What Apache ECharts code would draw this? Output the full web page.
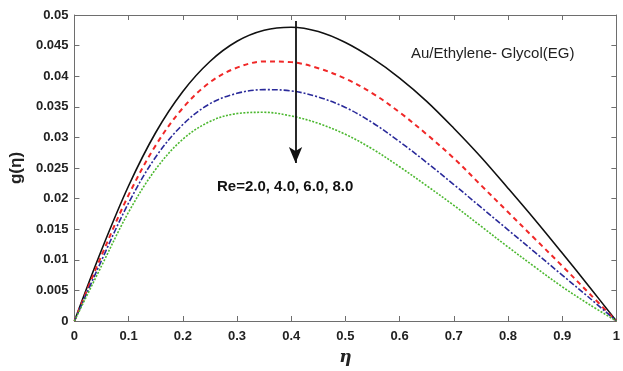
<!DOCTYPE html>
<html>
<head>
<meta charset="utf-8">
<script src="https://cdn.jsdelivr.net/npm/echarts@6/dist/echarts.min.js"></script>
<style>html,body{margin:0;padding:0;background:#fff;}#c{width:623px;height:371px;}</style>
</head>
<body>
<div id="c"></div>
<script>
var eta = [0,0.05,0.1,0.15,0.2,0.25,0.3,0.35,0.4,0.45,0.5,0.55,0.6,0.65,0.7,0.75,0.8,0.85,0.9,0.95,1];
var re2 = [0,0.0116,0.0221,0.0308,0.0375,0.0424,0.0457,0.0475,0.0480,0.0473,0.0455,0.0429,0.0397,0.0359,0.0315,0.0268,0.0217,0.0165,0.0111,0.0056,0];
var re4 = [0,0.0107,0.0206,0.0287,0.0348,0.0390,0.0414,0.0424,0.0423,0.0413,0.0396,0.0372,0.0341,0.0305,0.0266,0.0222,0.0178,0.0134,0.0090,0.0045,0];
var re6 = [0,0.0099,0.0193,0.0268,0.0321,0.0355,0.0372,0.0378,0.0376,0.0366,0.0349,0.0324,0.0293,0.0259,0.0223,0.0186,0.0149,0.0112,0.0075,0.0038,0];
var re8 = [0,0.0090,0.0178,0.0248,0.0297,0.0326,0.0339,0.0341,0.0335,0.0323,0.0305,0.0281,0.0252,0.0221,0.0189,0.0155,0.0121,0.0088,0.0056,0.0027,0];
var arrowX = 0.408, arrowTop = 0.0490, arrowBottom = 0.0258;
var labelRe = 'Re=2.0, 4.0, 6.0, 8.0';
var labelFluid = 'Au/Ethylene- Glycol(EG)';

function pairs(ys){ return eta.map(function(x,i){ return [x, ys[i]]; }); }

var axisCol = '#6e6e6e';
var chart = echarts.init(document.getElementById('c'), null, {renderer:'canvas'});
var lbl = {color:'#222', fontFamily:'Liberation Sans, Arial, sans-serif', fontWeight:'bold', fontSize:13};
function frameAxis(pos){
  return {
    show:true, position:pos,
    axisLine:{show:true, onZero:false, lineStyle:{color:axisCol, width:1}},
    axisTick:{show:true, inside:true, length:5, lineStyle:{color:axisCol}},
    axisLabel:{show:false}, splitLine:{show:false}
  };
}
var xTop = Object.assign({type:'value', min:0, max:1, interval:0.1}, frameAxis('top'));
var yRight = Object.assign({type:'value', min:0, max:0.05, interval:0.005}, frameAxis('right'));
var sm = 0.35;
chart.setOption({
  animation:false,
  backgroundColor:'#fff',
  grid:{left:72, right:5, top:15, bottom:47},
  xAxis:[{
    type:'value', min:0, max:1, interval:0.1, position:'bottom',
    name:'\u03b7', nameLocation:'middle', nameGap:28,
    nameTextStyle:{fontFamily:'DejaVu Serif, serif', fontStyle:'italic', fontWeight:'bold', fontSize:17, color:'#222'},
    axisLine:{show:true, onZero:false, lineStyle:{color:axisCol, width:1}},
    axisTick:{show:true, inside:true, length:5, lineStyle:{color:axisCol}},
    axisLabel:Object.assign({margin:9}, lbl),
    splitLine:{show:false}
  }, xTop],
  yAxis:[{
    type:'value', min:0, max:0.05, interval:0.005, position:'left',
    name:'g(\u03b7)', nameLocation:'middle', nameGap:44,
    nameTextStyle:{fontFamily:'Liberation Sans, Arial, sans-serif', fontWeight:'bold', fontSize:17, color:'#222'},
    axisLine:{show:true, onZero:false, lineStyle:{color:axisCol, width:1}},
    axisTick:{show:true, inside:true, length:5, lineStyle:{color:axisCol}},
    axisLabel:Object.assign({margin:6}, lbl),
    splitLine:{show:false}
  }, yRight],
  series:[
    {type:'line', name:'Re=2.0', data:pairs(re2), smooth:sm, symbol:'none', lineStyle:{color:'#111', width:1.6, type:'solid'},
      markLine:{silent:true, symbol:['none','arrow'], symbolSize:[10,16], label:{show:false},
        lineStyle:{color:'#111', width:1.8, type:'solid'},
        data:[[{coord:[arrowX, arrowTop]},{coord:[arrowX, arrowBottom]}]]}},
    {type:'line', name:'Re=4.0', data:pairs(re4), smooth:sm, symbol:'none', lineStyle:{color:'#f02828', width:2, type:[5,4]}},
    {type:'line', name:'Re=6.0', data:pairs(re6), smooth:sm, symbol:'none', lineStyle:{color:'#2a2a9a', width:1.6, type:[6,2,2,2]}},
    {type:'line', name:'Re=8.0', data:pairs(re8), smooth:sm, symbol:'none', lineStyle:{color:'#4cb830', width:1.6, type:[2,1.5]}}
  ],
  graphic:[
    {type:'text', left:411, top:46, style:{text:labelFluid, fill:'#222', font:'15px "Liberation Sans", Arial, sans-serif'}},
    {type:'text', left:217, top:179, style:{text:labelRe, fill:'#111', font:'bold 15px "Liberation Sans", Arial, sans-serif'}}
  ]
});
</script>
</body>
</html>
